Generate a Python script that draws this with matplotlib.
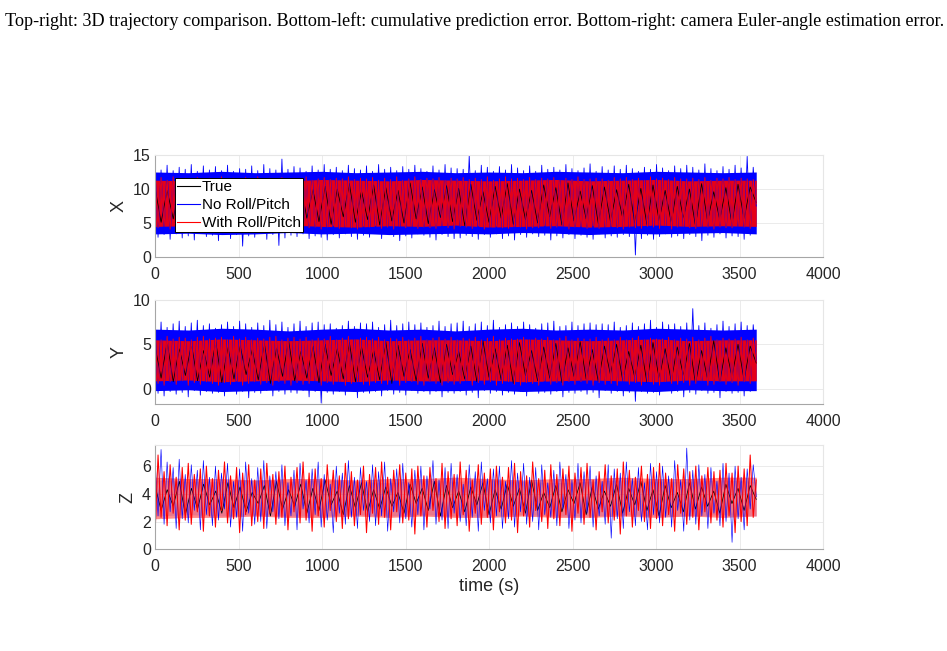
import numpy as np
import matplotlib.pyplot as plt

# --- caption line above the figure ---
caption = ('Top-right: 3D trajectory comparison. Bottom-left: cumulative prediction error. '
           'Bottom-right: camera Euler-angle estimation error.')

series_names = ['True', 'No Roll/Pitch', 'With Roll/Pitch']
series_colors = ['black', 'blue', 'red']

# --- X position: local peaks / troughs (every ~18 s) ---
X_true = [10.2, 5.1, 9.8, 5.6, 10.6, 4.8, 9.9, 5.9, 10.4, 5.3,
          10.9, 4.7, 9.7, 5.5, 10.3, 5.0, 10.8, 5.8, 9.6, 4.9,
          10.5, 5.4, 10.1, 4.6, 10.7, 5.7, 9.9, 5.2, 10.4, 4.8,
          10.0, 5.9, 10.8, 5.1, 9.7, 5.5, 10.6, 4.7, 10.2, 5.3,
          9.8, 5.0, 10.9, 5.6, 10.3, 4.9, 9.9, 5.8, 10.5, 5.2,
          10.1, 4.6, 10.7, 5.4, 9.6, 5.1, 10.4, 5.7, 10.8, 4.8,
          10.0, 5.5, 9.8, 5.0, 10.6, 5.9, 10.2, 4.7, 10.9, 5.3,
          9.7, 5.6, 10.5, 4.9, 10.3, 5.2, 9.9, 5.8, 10.7, 5.0,
          10.1, 4.8, 10.6, 5.4, 9.8, 5.1, 10.4, 5.7, 10.0, 4.6,
          10.8, 5.3, 9.6, 5.5, 10.2, 4.9, 10.7, 5.6, 10.3, 8.0]
X_noRP = [13.1, 2.9, 12.8, 3.3, 13.5, 2.6, 12.7, 3.4, 13.2, 2.8,
          12.9, 3.1, 13.6, 2.5, 12.6, 3.5, 13.4, 3.0, 12.8, 3.2,
          13.3, 2.4, 12.7, 3.4, 13.5, 2.7, 12.6, 3.3, 13.0, 1.6,
          12.9, 3.1, 13.4, 2.9, 12.7, 3.5, 13.6, 2.6, 13.0, 3.3,
          12.8, 1.7, 14.4, 2.8, 12.9, 3.2, 13.3, 3.0, 13.1, 3.4,
          12.6, 2.7, 13.4, 3.1, 12.8, 2.9, 13.6, 2.5, 12.9, 3.3,
          13.2, 2.8, 12.7, 3.4, 13.5, 3.0, 13.0, 2.6, 12.8, 3.2,
          13.4, 2.9, 12.6, 3.5, 13.6, 2.7, 12.9, 3.3, 13.2, 3.0,
          12.7, 2.4, 13.3, 3.1, 12.9, 2.8, 13.5, 3.4, 13.0, 3.2,
          12.6, 2.9, 13.4, 2.5, 12.8, 3.3, 13.6, 3.0, 13.1, 2.7,
          13.0, 2.8, 12.9, 3.2, 14.9, 3.0, 12.7, 2.6, 13.5, 3.3,
          13.2, 2.9, 12.6, 3.4, 13.3, 2.7, 12.8, 3.1, 13.6, 2.5,
          13.1, 3.3, 12.7, 2.9, 13.4, 3.4, 12.6, 3.0, 13.5, 3.2,
          12.9, 2.5, 13.2, 3.1, 12.8, 2.8, 13.6, 3.3, 13.0, 2.7,
          12.7, 3.2, 13.1, 2.9, 13.7, 2.6, 12.6, 3.4, 13.3, 2.8,
          12.8, 3.1, 13.4, 2.9, 12.9, 3.3, 13.5, 3.0, 13.0, 0.3,
          12.6, 2.7, 13.2, 3.2, 12.9, 2.6, 13.6, 3.0, 13.1, 3.4,
          12.7, 2.9, 13.4, 3.1, 13.0, 2.7, 13.5, 3.3, 13.2, 3.0,
          12.8, 2.4, 13.7, 3.2, 13.0, 2.9, 12.7, 3.4, 13.3, 2.8,
          12.9, 3.1, 13.5, 3.0, 13.1, 2.6, 14.8, 3.2, 13.2, 7.5]
X_withRP = [11.5, 4.3, 11.7, 4.5, 11.3, 4.1, 11.8, 4.4, 11.4, 4.2,
            11.6, 4.6, 11.3, 4.3, 11.7, 4.1, 11.5, 4.5, 11.6, 4.2,
            11.4, 4.4, 11.8, 4.1, 11.5, 4.3, 11.6, 4.6, 11.3, 4.2,
            11.7, 4.4, 11.4, 4.3, 11.8, 4.1, 11.5, 4.5, 11.6, 4.3,
            11.3, 4.6, 11.7, 4.2, 11.4, 4.4, 11.6, 4.1, 11.5, 4.5,
            11.8, 4.3, 11.3, 4.4, 11.5, 4.1, 11.7, 4.4, 11.4, 4.6,
            11.6, 4.2, 11.5, 4.4, 11.8, 4.3, 11.4, 4.1, 11.6, 4.5,
            11.5, 4.4, 11.7, 4.6, 11.3, 4.2, 11.6, 4.4, 11.4, 4.1,
            11.8, 4.5, 11.3, 4.3, 11.5, 4.5, 11.8, 4.2, 11.4, 4.4,
            11.6, 4.3, 11.5, 4.2, 11.7, 4.6, 11.3, 4.3, 11.6, 4.1,
            11.5, 4.5, 11.7, 4.4, 11.4, 4.2, 11.6, 4.6, 11.4, 4.1,
            11.8, 4.4, 11.3, 4.5, 11.5, 4.3, 11.8, 4.2, 11.5, 4.5,
            11.6, 4.4, 11.4, 4.1, 11.7, 4.3, 11.4, 4.3, 11.6, 4.6,
            11.5, 4.2, 11.7, 4.4, 11.3, 4.5, 11.6, 4.1, 11.4, 4.4,
            11.8, 4.5, 11.4, 4.2, 11.5, 4.6, 11.6, 4.2, 11.5, 4.4,
            11.3, 4.5, 11.7, 4.3, 11.5, 4.1, 11.7, 4.4, 11.4, 4.3,
            11.6, 4.2, 11.3, 4.5, 11.8, 4.4, 11.5, 4.2, 11.6, 4.6,
            11.4, 4.1, 11.7, 4.4, 11.5, 4.5, 11.5, 4.3, 11.6, 4.2,
            11.4, 4.5, 11.7, 4.4, 11.3, 4.1, 11.6, 4.4, 11.5, 4.3,
            11.7, 4.3, 11.4, 4.5, 11.6, 4.4, 11.5, 4.2, 11.4, 7.8]

# --- Y position ---
Y_true = [4.8, 1.2, 5.2, 0.8, 4.5, 1.5, 5.0, 0.9, 4.3, 1.3,
          5.3, 0.7, 4.7, 1.1, 4.9, 1.6, 4.4, 1.0, 5.1, 0.6,
          4.6, 1.4, 5.4, 0.9, 4.2, 1.2, 4.8, 0.7, 5.0, 1.5,
          4.5, 1.1, 5.2, 0.8, 4.7, 1.3, 4.3, 1.0, 5.3, 0.6,
          4.9, 1.4, 4.4, 0.9, 5.1, 1.2, 4.6, 0.7, 5.0, 1.6,
          4.2, 1.1, 4.8, 0.8, 5.4, 1.3, 4.5, 1.0, 4.9, 0.6,
          5.2, 1.5, 4.3, 0.9, 4.7, 1.2, 5.1, 0.7, 4.6, 1.4,
          5.3, 1.1, 4.4, 0.8, 4.8, 1.6, 5.0, 1.0, 4.2, 1.3,
          4.9, 0.7, 5.2, 1.2, 4.5, 0.9, 4.7, 1.5, 5.1, 0.6,
          4.3, 1.1, 5.4, 0.8, 4.6, 1.4, 5.0, 1.0, 4.8, 2.9]
Y_noRP = [7.2, -0.5, 7.5, -0.8, 6.9, -0.3, 7.3, -0.6, 7.6, -0.4,
          7.0, -0.9, 7.4, -0.2, 7.7, -0.7, 7.1, -0.3, 7.3, -0.5,
          6.8, -0.4, 7.2, -0.8, 7.5, -0.2, 7.0, -0.6, 7.6, -0.3,
          7.3, -1.0, 6.9, -0.4, 7.4, -0.5, 7.1, -0.2, 7.7, -0.8,
          7.2, -0.3, 7.5, -0.6, 6.9, -0.4, 7.3, -0.5, 7.6, -0.2,
          7.0, -0.9, 7.4, -0.3, 7.5, -1.6, 7.2, -0.4, 7.3, -0.6,
          6.8, -0.3, 7.1, -0.7, 7.6, -0.2, 7.0, -1.0, 7.4, -0.4,
          7.3, -0.5, 7.5, -0.3, 6.9, -0.8, 7.2, -0.2, 7.7, -0.6,
          7.1, -0.4, 7.3, -0.7, 7.5, -0.2, 7.2, -0.5, 7.4, -0.3,
          6.9, -0.6, 7.1, -0.3, 7.6, -0.9, 7.0, -0.4, 7.3, -0.5,
          7.4, -0.3, 7.6, -0.7, 7.0, -0.4, 7.3, -1.0, 7.5, -0.2,
          7.1, -0.5, 7.7, -0.3, 6.9, -0.7, 7.2, -0.4, 7.4, -0.6,
          7.0, -0.3, 7.5, -0.8, 7.2, -0.2, 6.8, -0.5, 7.3, -0.4,
          7.4, -0.6, 7.6, -0.3, 7.0, -0.9, 7.1, -0.4, 7.5, -0.5,
          7.1, -0.3, 7.3, -0.6, 7.4, -0.4, 7.2, -1.0, 7.3, -0.2,
          7.2, -0.5, 7.5, -0.3, 6.9, -0.8, 7.1, -0.4, 7.4, -1.4,
          7.0, -0.3, 7.3, -0.5, 7.7, -0.4, 6.9, -0.7, 7.5, -0.2,
          7.2, -0.5, 7.3, -0.3, 7.0, -0.9, 7.4, -0.4, 9.0, -0.6,
          7.1, -0.2, 7.4, -0.5, 6.8, -0.4, 7.2, -1.0, 7.6, -0.3,
          7.0, -0.5, 7.3, -0.4, 7.5, -0.8, 7.1, -0.3, 7.2, 3.1]
Y_withRP = [5.7, 0.6, 5.5, 0.4, 5.9, 0.8, 5.6, 0.5, 5.8, 0.9,
            5.7, 0.4, 5.5, 0.7, 5.8, 0.5, 5.9, 0.8, 5.6, 0.6,
            5.7, 0.4, 5.8, 0.7, 5.5, 0.5, 5.9, 0.9, 5.6, 0.4,
            5.8, 0.6, 5.5, 0.8, 5.7, 0.5, 5.6, 0.7, 5.8, 0.4,
            5.9, 0.8, 5.5, 0.6, 5.7, 0.4, 5.8, 0.7, 5.6, 0.5,
            5.8, 0.6, 5.5, 0.9, 5.7, 0.4, 5.6, 0.7, 5.9, 0.5,
            5.5, 0.8, 5.7, 0.4, 5.9, 0.6, 5.5, 0.8, 5.7, 0.5,
            5.8, 0.4, 5.6, 0.7, 5.8, 0.6, 5.5, 0.5, 5.7, 0.9,
            5.6, 0.4, 5.8, 0.7, 5.5, 0.8, 5.7, 0.5, 5.9, 0.4,
            5.5, 0.8, 5.7, 0.6, 5.8, 0.4, 5.6, 0.7, 5.8, 0.5,
            5.5, 0.6, 5.7, 0.9, 5.6, 0.4, 5.8, 0.7, 5.5, 0.5,
            5.7, 0.8, 5.9, 0.4, 5.5, 0.6, 5.7, 0.8, 5.6, 0.5,
            5.6, 0.4, 5.8, 0.7, 5.5, 0.6, 5.7, 0.4, 5.6, 0.9,
            5.8, 0.5, 5.5, 0.7, 5.7, 0.4, 5.9, 0.8, 5.5, 0.5,
            5.7, 0.8, 5.6, 0.6, 5.6, 0.4, 5.8, 0.7, 5.5, 0.5,
            5.7, 0.6, 5.5, 0.4, 5.8, 0.9, 5.5, 0.5, 5.7, 0.7,
            5.9, 0.4, 5.5, 0.8, 5.7, 0.5, 5.6, 0.4, 5.6, 0.8,
            5.8, 0.6, 5.5, 0.5, 5.7, 0.7, 5.6, 0.4, 5.8, 0.6,
            5.5, 0.9, 5.7, 0.4, 5.9, 0.5, 5.5, 0.8, 5.7, 0.5,
            5.6, 0.7, 5.6, 0.4, 5.8, 0.8, 5.5, 0.6, 5.7, 3.0]

# --- Z position ---
Z_true = [4.6, 2.8, 4.3, 3.1, 4.9, 2.5, 4.4, 2.9, 4.7, 3.2,
          4.2, 2.6, 4.8, 3.0, 4.5, 2.7, 4.1, 3.3, 4.6, 2.4,
          4.9, 2.9, 4.3, 3.1, 4.7, 2.6, 4.4, 2.8, 5.0, 3.2,
          4.2, 2.5, 4.6, 3.0, 4.8, 2.7, 4.3, 2.9, 4.5, 3.1,
          4.1, 2.6, 4.7, 3.3, 4.4, 2.8, 4.9, 2.4, 4.6, 3.0,
          4.2, 2.7, 4.5, 3.2, 4.8, 2.5, 4.3, 2.9, 4.7, 3.1,
          4.4, 2.6, 5.0, 2.8, 4.1, 3.0, 4.6, 2.7, 4.3, 3.3,
          4.8, 2.5, 4.5, 2.9, 4.2, 3.1, 4.7, 2.6, 4.4, 3.2,
          4.9, 2.8, 4.3, 2.4, 4.6, 3.0, 4.1, 2.7, 4.8, 2.9,
          4.5, 3.1, 4.2, 2.6, 4.7, 3.3, 4.4, 2.8, 4.6, 3.6]
Z_noRP = [6.6, 2.4, 7.2, 1.8, 6.3, 2.7, 5.9, 1.5, 6.5, 2.2,
          5.4, 1.9, 6.1, 2.8, 5.7, 1.4, 6.4, 2.5, 5.2, 1.7,
          6.0, 2.1, 5.5, 2.9, 6.2, 1.6, 4.9, 2.3, 5.8, 1.3,
          6.3, 2.6, 5.1, 1.8, 5.9, 2.0, 6.4, 1.5, 5.3, 2.7,
          5.6, 2.2, 6.1, 1.7, 4.8, 2.4, 5.7, 1.4, 6.2, 2.9,
          5.0, 1.9, 5.8, 2.5, 6.3, 1.6, 5.4, 2.1, 4.7, 1.2,
          6.0, 2.6, 5.5, 1.8, 6.4, 2.3, 5.2, 1.5, 5.9, 2.8,
          4.9, 2.0, 6.1, 1.7, 5.6, 2.4, 6.3, 1.3, 5.1, 2.7,
          5.8, 1.9, 6.2, 2.2, 4.8, 1.6, 5.7, 2.5, 6.0, 1.4,
          5.3, 2.9, 6.4, 1.8, 5.0, 2.1, 5.9, 1.5, 6.2, 2.6,
          5.4, 2.0, 4.7, 1.7, 6.1, 2.3, 5.6, 1.3, 6.3, 2.8,
          5.1, 1.9, 5.8, 2.4, 6.0, 1.5, 4.9, 2.2, 6.4, 1.6,
          5.5, 2.7, 6.2, 1.8, 5.2, 2.0, 5.9, 1.4, 6.1, 2.5,
          4.8, 2.3, 5.7, 1.7, 6.3, 2.9, 5.4, 1.5, 5.0, 2.1,
          6.2, 1.9, 5.6, 2.6, 6.0, 1.6, 5.3, 2.4, 4.9, 1.8,
          6.1, 0.8, 5.8, 2.2, 5.5, 1.5, 6.3, 2.7, 5.1, 1.7,
          5.9, 2.0, 4.8, 1.4, 6.2, 2.5, 5.6, 1.9, 6.0, 2.3,
          5.3, 1.6, 6.4, 2.8, 5.0, 1.3, 7.3, 2.1, 5.7, 1.8,
          6.1, 2.4, 5.4, 1.5, 5.9, 2.6, 4.9, 1.7, 6.2, 2.0,
          5.5, 0.5, 6.0, 2.2, 5.2, 1.4, 5.8, 2.9, 6.1, 3.8]
Z_withRP = [1.0, 6.8, 2.3, 5.6, 1.7, 6.1, 2.6, 5.2, 1.4, 5.9,
            2.1, 6.2, 1.8, 5.4, 2.7, 5.8, 1.3, 6.0, 2.4, 5.1,
            1.6, 5.7, 2.8, 6.3, 1.9, 5.3, 2.2, 5.9, 1.2, 5.5,
            2.5, 6.1, 1.7, 5.0, 2.0, 5.8, 1.5, 6.2, 2.6, 5.4,
            1.8, 5.6, 2.3, 6.0, 1.4, 5.2, 2.7, 5.9, 1.9, 6.3,
            2.1, 5.5, 1.3, 5.8, 2.4, 5.1, 1.6, 6.1, 2.8, 5.7,
            2.0, 5.3, 1.5, 6.2, 2.2, 5.6, 1.7, 5.0, 2.5, 6.0,
            1.2, 5.4, 2.6, 5.9, 1.8, 6.3, 2.3, 5.2, 1.4, 5.7,
            2.7, 6.1, 1.9, 5.5, 2.1, 5.8, 1.1, 6.0, 2.4, 5.3,
            1.6, 5.9, 2.8, 5.1, 2.0, 6.2, 1.5, 5.6, 2.2, 5.4,
            1.7, 6.3, 2.5, 5.7, 1.3, 5.0, 2.6, 6.1, 1.8, 5.5,
            2.3, 5.8, 1.4, 6.0, 2.7, 5.2, 1.9, 5.9, 2.1, 6.2,
            1.2, 5.6, 2.4, 5.3, 1.6, 6.3, 2.8, 5.1, 2.0, 5.7,
            1.5, 6.1, 2.2, 5.4, 1.7, 5.8, 2.5, 6.0, 1.3, 5.5,
            2.6, 5.9, 1.8, 6.2, 2.3, 5.0, 1.4, 5.6, 2.7, 6.1,
            1.9, 5.3, 2.1, 5.8, 1.1, 6.3, 2.4, 5.7, 1.6, 5.2,
            2.8, 6.0, 2.0, 5.4, 1.5, 5.9, 2.2, 6.2, 1.7, 5.5,
            2.5, 5.1, 1.3, 6.1, 2.6, 5.8, 1.8, 5.6, 2.3, 6.0,
            1.4, 5.3, 2.7, 5.9, 1.9, 5.6, 2.1, 5.7, 1.6, 6.2,
            2.4, 5.5, 1.2, 6.0, 2.0, 5.8, 1.7, 6.8, 2.3, 5.0]

# --- solid core of each dense band (lower / upper edge every 200 s) ---
X_noRP_hi = [12.5, 12.4, 12.6, 12.4, 12.5, 12.6, 12.4, 12.5, 12.6, 12.4,
             12.5, 12.4, 12.6, 12.5, 12.4, 12.6, 12.5, 12.4, 12.5]
X_noRP_lo = [3.4, 3.5, 3.3, 3.4, 3.6, 3.4, 3.5, 3.3, 3.4, 3.5,
             3.4, 3.6, 3.5, 3.3, 3.5, 3.4, 3.5, 3.6, 3.4]
X_withRP_hi = [11.3, 11.2, 11.4, 11.3, 11.2, 11.4, 11.3, 11.2, 11.4, 11.3,
               11.2, 11.3, 11.4, 11.2, 11.3, 11.4, 11.2, 11.3, 11.3]
X_withRP_lo = [4.5, 4.6, 4.4, 4.5, 4.7, 4.5, 4.4, 4.6, 4.5, 4.7,
               4.4, 4.5, 4.6, 4.4, 4.5, 4.7, 4.5, 4.6, 4.5]
Y_noRP_hi = [6.7, 6.6, 6.8, 6.7, 6.5, 6.7, 6.8, 6.6, 6.7, 6.5,
             6.7, 6.8, 6.6, 6.7, 6.6, 6.8, 6.7, 6.6, 6.7]
Y_noRP_lo = [-0.2, -0.1, -0.3, -0.2, -0.1, -0.2, -0.3, -0.1, -0.2, -0.2,
             -0.1, -0.3, -0.2, -0.1, -0.2, -0.3, -0.1, -0.2, -0.2]
Y_withRP_hi = [5.5, 5.4, 5.6, 5.5, 5.4, 5.5, 5.6, 5.4, 5.5, 5.5,
               5.4, 5.6, 5.5, 5.4, 5.5, 5.6, 5.4, 5.5, 5.5]
Y_withRP_lo = [0.9, 1.0, 0.8, 0.9, 1.0, 0.9, 0.8, 1.0, 0.9, 0.9,
               1.0, 0.8, 0.9, 1.0, 0.9, 0.8, 1.0, 0.9, 0.9]
Z_noRP_hi = [5.0, 4.9, 4.9, 5.0, 4.9, 5.0, 4.9, 4.8, 5.0, 4.9,
             5.0, 4.9, 4.8, 4.9, 5.0, 4.9, 4.9, 5.0, 4.9]
Z_noRP_lo = [2.4, 2.5, 2.4, 2.5, 2.4, 2.4, 2.5, 2.4, 2.5, 2.4,
             2.4, 2.5, 2.4, 2.4, 2.5, 2.4, 2.4, 2.5, 2.4]
Z_withRP_hi = [5.2, 5.1, 5.1, 5.0, 5.1, 5.1, 5.0, 5.1, 5.1, 5.2,
               5.1, 5.0, 5.1, 5.1, 5.2, 5.1, 5.1, 5.2, 5.2]
Z_withRP_lo = [2.2, 2.3, 2.3, 2.4, 2.3, 2.3, 2.4, 2.3, 2.4, 2.3,
               2.3, 2.4, 2.3, 2.3, 2.4, 2.3, 2.4, 2.3, 2.4]

t_end = 3600
x_ticks = [0, 500, 1000, 1500, 2000, 2500, 3000, 3500, 4000]

# name, series, blue core, red core, ylim, yticks, (blue fill alpha, red fill alpha),
# (blue line width, red line width)
panels = [
    ('X', [X_true, X_noRP, X_withRP], (X_noRP_lo, X_noRP_hi), (X_withRP_lo, X_withRP_hi),
     (0, 15), [0, 5, 10, 15], (1.0, 0.9), (0.6, 0.6)),
    ('Y', [Y_true, Y_noRP, Y_withRP], (Y_noRP_lo, Y_noRP_hi), (Y_withRP_lo, Y_withRP_hi),
     (-1.7, 10), [0, 5, 10], (1.0, 0.9), (0.6, 0.6)),
    ('Z', [Z_true, Z_noRP, Z_withRP], (Z_noRP_lo, Z_noRP_hi), (Z_withRP_lo, Z_withRP_hi),
     (0, 7.5), [0, 2, 4, 6], (0.15, 0.45), (0.45, 0.75)),
]

plt.rcParams['font.family'] = ['Liberation Sans', 'DejaVu Sans']

fig = plt.figure(figsize=(9.47, 6.51), dpi=100)
fig.text(0.005, 0.967, caption, family='Liberation Serif', fontsize=13.05,
         ha='left', va='center', color='black')

# axes rectangles (left, bottom, width, height) in figure fraction
rects = [(0.1637, 0.6052, 0.7054, 0.1567),
         (0.1637, 0.3794, 0.7054, 0.1602),
         (0.1637, 0.1562, 0.7054, 0.1598)]

axes = []
for rect, (name, data, env_b, env_r, ylim, yticks, alphas, lws) in zip(rects, panels):
    ax = fig.add_axes(rect)
    t_env = np.linspace(0, t_end, len(env_b[0]))
    true_v, blue_v, red_v = data
    # blue band + lines
    ax.fill_between(t_env, env_b[0], env_b[1], color='blue', alpha=alphas[0],
                    linewidth=0)
    ax.plot(np.linspace(0, t_end, len(true_v)), true_v, color='black',
            linewidth=0.55, label=series_names[0])
    ax.plot(np.linspace(0, t_end, len(blue_v)), blue_v, color='blue',
            linewidth=lws[0], label=series_names[1])
    # red band + lines on top
    ax.fill_between(t_env, env_r[0], env_r[1], color='red', alpha=alphas[1],
                    linewidth=0)
    ax.plot(np.linspace(0, t_end, len(red_v)), red_v, color='red',
            linewidth=lws[1], label=series_names[2])
    ax.set_xlim(0, 4000)
    ax.set_ylim(*ylim)
    ax.set_xticks(x_ticks)
    ax.set_yticks(yticks)
    ax.set_ylabel(name, fontsize=13, color='#262626')
    ax.grid(True, color='#ebebeb', linewidth=0.7)
    ax.set_axisbelow(True)
    for side in ['left', 'bottom']:
        ax.spines[side].set_color('#a6a6a6')
    for side in ['top', 'right']:
        ax.spines[side].set_color('#e6e6e6')
    ax.tick_params(direction='in', length=0, labelsize=11.5, colors='#262626')
    ax.tick_params(axis='x', pad=7)
    ax.tick_params(axis='y', pad=3)
    axes.append(ax)

axes[-1].set_xlabel('time (s)', fontsize=13, color='#262626', labelpad=3)

leg = axes[0].legend(loc='upper left', bbox_to_anchor=(0.03, 0.775), borderaxespad=0,
                     fontsize=11, fancybox=False, framealpha=1, edgecolor='black',
                     handlelength=1.5, handletextpad=0.1, borderpad=0.15,
                     labelspacing=0.25)
leg.get_frame().set_linewidth(0.7)
for line in leg.get_lines():
    line.set_linewidth(0.8)

fig.savefig('out.png', dpi=100)
